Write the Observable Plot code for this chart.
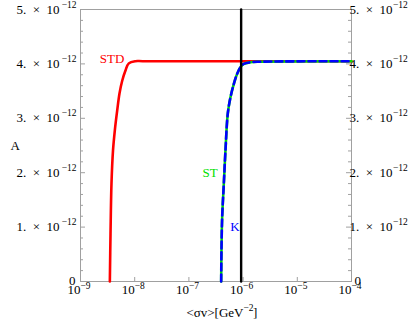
<!DOCTYPE html>
<html>
<head>
<meta charset="utf-8">
<script src="https://cdn.jsdelivr.net/npm/d3@7"></script>
<script src="https://cdn.jsdelivr.net/npm/@observablehq/plot@0.6"></script>
<style>
  html, body { margin: 0; padding: 0; background: #fff; }
</style>
</head>
<body>
<div id="chart"></div>
<script>
// ---- data (A in units of 1e-12) ----
const stdX = [3.48e-9, 3.58e-9, 3.73e-9, 3.98e-9, 4.30e-9, 4.75e-9, 5.25e-9, 5.88e-9, 6.76e-9, 7.78e-9, 1.03e-8, 1.4e-8, 1e-4];
const stdA = [0, 0.88, 1.80, 2.41, 2.78, 3.14, 3.46, 3.69, 3.88, 4.01, 4.05, 4.05, 4.05];
const stX  = [3.94e-7, 3.99e-7, 4.11e-7, 4.41e-7, 4.73e-7, 5.22e-7, 5.86e-7, 6.73e-7, 7.78e-7, 8.95e-7, 1.03e-6, 1.37e-6, 2.0e-6, 1e-4];
const stA  = [0, 0.57, 1.18, 1.80, 2.41, 3.09, 3.39, 3.63, 3.82, 3.94, 4.00, 4.03, 4.04, 4.05];
const kX   = [3.94e-7, 3.99e-7, 4.11e-7, 4.41e-7, 4.73e-7, 5.22e-7, 5.86e-7, 6.73e-7, 7.78e-7, 8.95e-7, 1.03e-6, 1.37e-6, 2.0e-6, 1e-4];
const kA   = [0, 0.57, 1.18, 1.80, 2.41, 3.09, 3.39, 3.63, 3.82, 3.94, 4.00, 4.03, 4.04, 4.05];
const vLineX = 9.2e-7;
const vLineA = [0, 5];

const xTicks = [1e-9, 1e-8, 1e-7, 1e-6, 1e-5, 1e-4];
const xTickExp = ["\u22129", "\u22128", "\u22127", "\u22126", "\u22125", "\u22124"];
const yTicks = [0, 1, 2, 3, 4, 5];
const yTickBase = ["0", "1.\u2002\u00d7\u200210", "2.\u2002\u00d7\u200210", "3.\u2002\u00d7\u200210", "4.\u2002\u00d7\u200210", "5.\u2002\u00d7\u200210"];
const yTickExp = ["", "\u221212", "\u221212", "\u221212", "\u221212", "\u221212"];
const yMinor = [0.2,0.4,0.6,0.8,1.2,1.4,1.6,1.8,2.2,2.4,2.6,2.8,3.2,3.4,3.6,3.8,4.2,4.4,4.6,4.8];

const curveLabels = [
  {text: "STD", x: 3.81e-9, y: 4.09, color: "#ff0000"},
  {text: "ST",  x: 2.47e-7, y: 2.0,  color: "#00e000"},
  {text: "K",   x: 7.1e-7,  y: 1.0,  color: "#0000ff"}
];

const toRows = (xs, ys) => xs.map((x, i) => ({x, y: ys[i]}));
const stdRows = toRows(stdX, stdA);
const stRows = toRows(stX, stA);
const kRows = toRows(kX, kA);
const vRows = vLineA.map(y => ({x: vLineX, y}));
const yRows = yTicks.map((v, i) => ({v, base: yTickBase[i], exp: yTickExp[i]}));
const yRowsNZ = yRows.filter(d => d.v !== 0);
const yRowsZ = yRows.filter(d => d.v === 0);
const xRows = xTicks.map((v, i) => ({v, exp: xTickExp[i]}));

const gray = "#a0a0a0";
const FW = 409 - 80 - 58;
const FH = 324 - 9 - 43;
const FS = 13;
const FE = 9.5;

const chart = Plot.plot({
  width: 409,
  height: 324,
  marginLeft: 80,
  marginRight: 58,
  marginTop: 9,
  marginBottom: 43,
  x: {type: "log", domain: [1e-9, 1e-4], axis: null},
  y: {domain: [0, 5], axis: null},
  style: {fontFamily: "'Liberation Serif', 'Times New Roman', serif", fontSize: "13px", background: "#fff", overflow: "visible"},
  marks: [
    // ticks
    Plot.tickY(yTicks, {y: d => d, stroke: gray, insetRight: FW - 5}),
    Plot.tickY(yTicks, {y: d => d, stroke: gray, insetLeft: FW - 5}),
    Plot.tickY(yMinor, {y: d => d, stroke: gray, insetRight: FW - 3}),
    Plot.tickY(yMinor, {y: d => d, stroke: gray, insetLeft: FW - 3}),
    Plot.tickX(xTicks, {x: d => d, stroke: gray, insetTop: FH - 4}),
    Plot.frame({stroke: gray}),
    // curves
    Plot.line(stdRows, {x: "x", y: "y", stroke: "#ff0000", strokeWidth: 2.6, curve: "catmull-rom"}),
    Plot.line(stRows, {x: "x", y: "y", stroke: "#00e000", strokeWidth: 2.6, curve: "catmull-rom"}),
    Plot.line(kRows, {x: "x", y: "y", stroke: "#0000ff", strokeWidth: 2.6, strokeDasharray: "7,4", curve: "catmull-rom"}),
    Plot.line(vRows, {x: "x", y: "y", stroke: "#000", strokeWidth: 2.4}),
    // curve labels
    Plot.text(curveLabels, {x: "x", y: "y", text: "text", fill: "color", fontSize: FS}),
    // y tick labels left
    Plot.text(yRowsNZ, {y: "v", text: "base", frameAnchor: "left", textAnchor: "end", dx: -21, fill: "#000", fontSize: FS}),
    Plot.text(yRowsZ, {y: "v", text: "base", frameAnchor: "left", textAnchor: "end", dx: -5, dy: -1, fill: "#000", fontSize: FS}),
    Plot.text(yRowsNZ, {y: "v", text: "exp", frameAnchor: "left", textAnchor: "end", dx: -4, dy: -5, fill: "#000", fontSize: FE}),
    // y tick labels right
    Plot.text(yRowsNZ, {y: "v", text: "base", frameAnchor: "right", textAnchor: "end", dx: 41, fill: "#000", fontSize: FS}),
    Plot.text(yRowsZ, {y: "v", text: "base", frameAnchor: "right", textAnchor: "start", dx: 3, dy: -1, fill: "#000", fontSize: FS}),
    Plot.text(yRowsNZ, {y: "v", text: "exp", frameAnchor: "right", textAnchor: "start", dx: 41.5, dy: -5, fill: "#000", fontSize: FE}),
    // x tick labels
    Plot.text(xRows, {x: "v", text: d => "10", frameAnchor: "bottom", textAnchor: "end", dy: 12, fill: "#000", fontSize: FS}),
    Plot.text(xRows, {x: "v", text: "exp", frameAnchor: "bottom", textAnchor: "start", dy: 7, fill: "#000", fontSize: FE}),
    // axis titles
    Plot.text(["A"], {frameAnchor: "left", dx: -70, text: d => d, fill: "#000", fontSize: FS}),
    Plot.text(["<\u03c3v>[GeV"], {frameAnchor: "bottom", dx: 27.5, dy: 35, textAnchor: "end", text: d => d, fill: "#000", fontSize: FS}),
    Plot.text(["\u22122"], {frameAnchor: "bottom", dx: 27.5, dy: 29, textAnchor: "start", text: d => d, fill: "#000", fontSize: FE}),
    Plot.text(["]"], {frameAnchor: "bottom", dx: 37, dy: 35, textAnchor: "start", text: d => d, fill: "#000", fontSize: FS})
  ]
});
document.getElementById("chart").appendChild(chart);
</script>
</body>
</html>
